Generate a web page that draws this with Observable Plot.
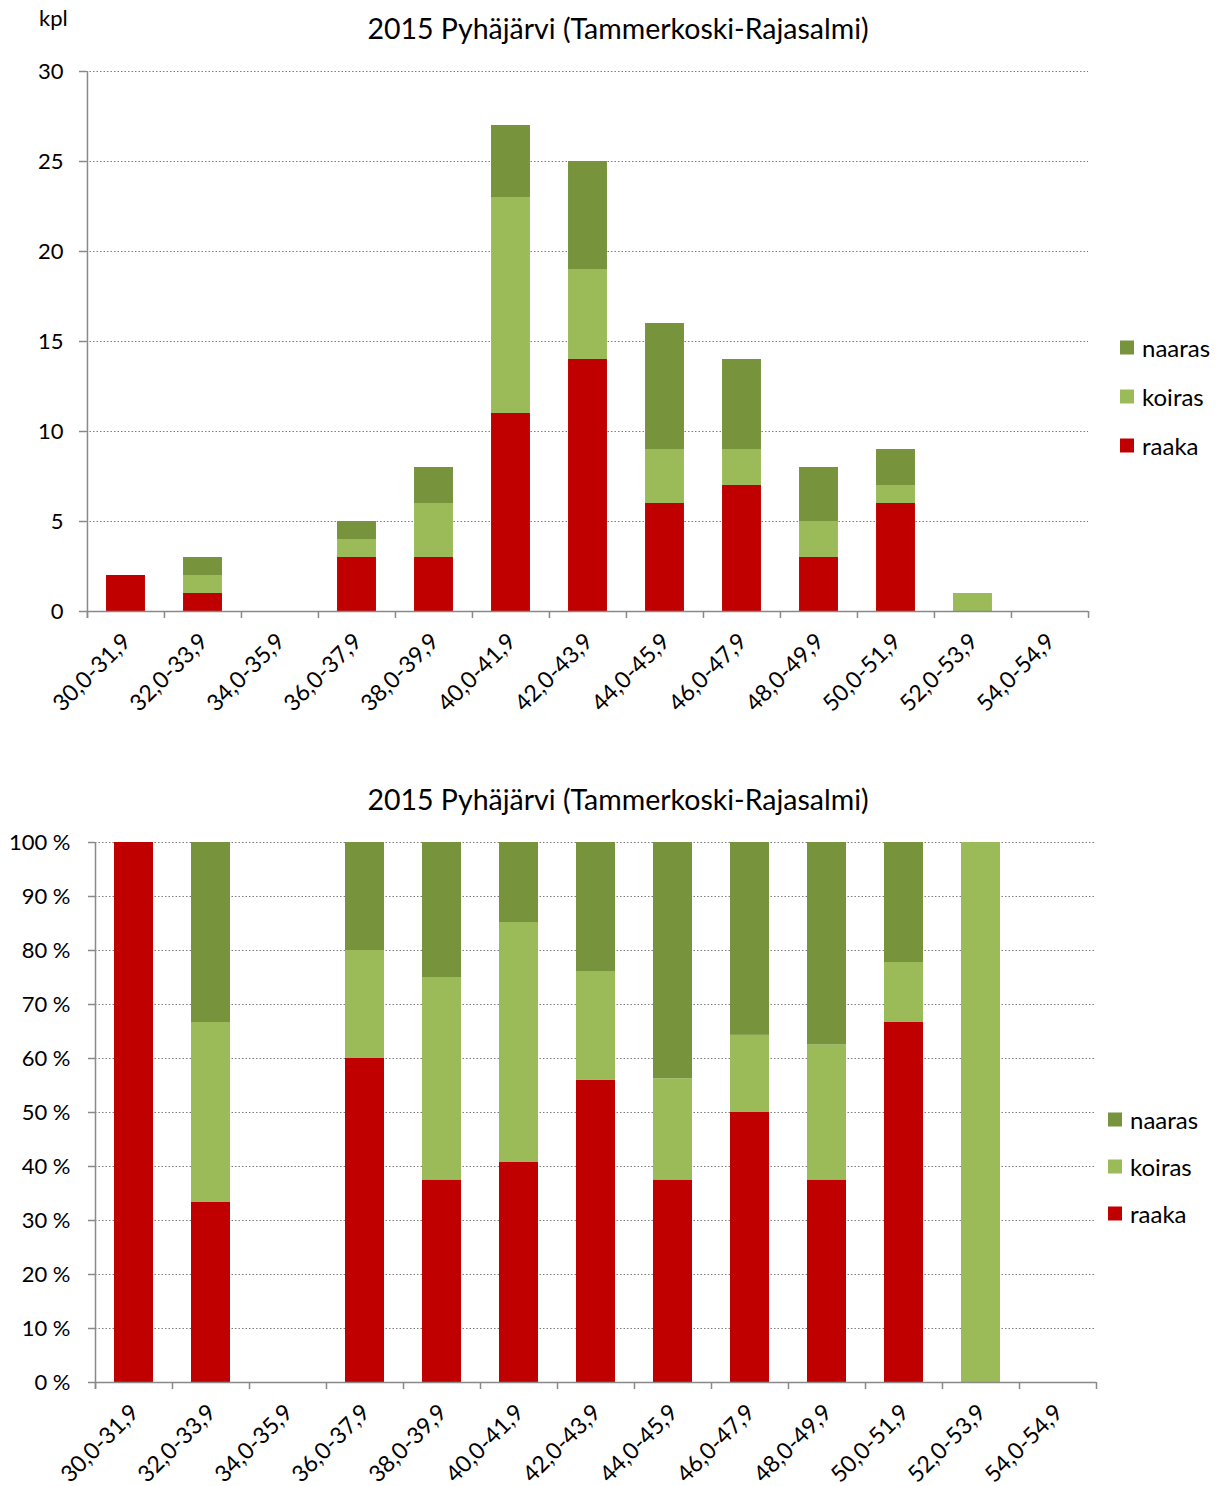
<!DOCTYPE html>
<html>
<head>
<meta charset="utf-8">
<script src="https://cdn.jsdelivr.net/npm/d3@7"></script>
<script src="https://cdn.jsdelivr.net/npm/@observablehq/plot@0.6"></script>
<style>
  html, body { margin: 0; padding: 0; background: #fff; }
  body { width: 1216px; height: 1486px; position: relative; overflow: hidden; font-family: Lato, "Open Sans", sans-serif; color: #000; }
  .abs { position: absolute; white-space: nowrap; }
  .title { font-size: 28.5px; transform: translate(-50%, -50%); }
  .leg { font-size: 24px; display: flex; align-items: center; transform: translateY(-50%); }
  .sw { width: 14px; height: 14px; margin-right: 8px; display: inline-block; }
  svg { position: absolute; left: 0; overflow: visible; }
</style>
</head>
<body>
<div id="root"></div>
<script>
const categories = ["30,0-31,9","32,0-33,9","34,0-35,9","36,0-37,9","38,0-39,9","40,0-41,9","42,0-43,9","44,0-45,9","46,0-47,9","48,0-49,9","50,0-51,9","52,0-53,9","54,0-54,9"];
const raaka  = [2, 1, 0, 3, 3, 11, 14, 6, 7, 3, 6, 0, 0];
const koiras = [0, 1, 0, 1, 3, 12, 5, 3, 2, 2, 1, 1, 0];
const naaras = [0, 1, 0, 1, 2, 4, 6, 7, 5, 3, 2, 0, 0];
const series = ["raaka", "koiras", "naaras"];
const colors = ["#C00000", "#9BBB59", "#77933C"];
const countTicks = [0, 5, 10, 15, 20, 25, 30];
const pctTicks = [0, 0.1, 0.2, 0.3, 0.4, 0.5, 0.6, 0.7, 0.8, 0.9, 1];
const titleText = "2015 Pyhäjärvi (Tammerkoski-Rajasalmi)";
const yUnit = "kpl";

const seriesValues = {raaka, koiras, naaras};
const data = [];
categories.forEach((c, i) => series.forEach(s => { if (seriesValues[s][i] > 0) data.push({cat: c, sex: s, value: seriesValues[s][i]}); }));

const FONT = "Lato, 'Open Sans', sans-serif";
const AX = "#898989";

function makeChart({top, height, mL, mR, mT, mB, normalize, yTicks, yFmt, yDomain, yPad}) {
  const plotW = 1216 - mL - mR;
  const bw = plotW / categories.length;
  const tickLenData = 7 / ((height - mT - mB) / (yDomain[1] - yDomain[0]));
  const stackOpts = {x: "cat", y: "value", fill: "sex", order: series};
  if (normalize) stackOpts.offset = "normalize";
  const svg = Plot.plot({
    width: 1216, height,
    marginLeft: mL, marginRight: mR, marginTop: mT, marginBottom: mB,
    style: {fontFamily: FONT, background: "transparent", overflow: "visible"},
    x: {domain: categories, padding: 0, axis: null, label: null},
    y: {domain: yDomain, axis: null, label: null},
    color: {domain: series, range: colors},
    marks: [
      Plot.gridY(yTicks.filter(t => t > 0), {stroke: "#7f7f7f", strokeOpacity: 1, strokeDasharray: "1.5,2", strokeWidth: 1.2}),
      Plot.barY(data, Plot.stackY({...stackOpts, insetLeft: (bw - 39) / 2, insetRight: (bw - 39) / 2})),
      Plot.axisY({ticks: yTicks, tickFormat: yFmt, label: null, tickSize: 7, tickPadding: yPad, fontSize: 22, stroke: AX, strokeWidth: 1.5, color: "#000"}),
      Plot.ruleX([categories[0]], {x: d => d, dx: -bw / 2, stroke: AX, strokeWidth: 1.5, y1: yDomain[0] - tickLenData, y2: yDomain[1]}),
      Plot.ruleY([yDomain[0]], {stroke: AX, strokeWidth: 1.5}),
      Plot.axisX({ticks: categories, label: null, tickSize: 7, tickFormat: () => "", dx: -bw / 2, stroke: AX, strokeWidth: 1.5}),
      Plot.ruleX([categories[categories.length - 1]], {x: d => d, dx: bw / 2, stroke: AX, strokeWidth: 1.5, y1: yDomain[0] - tickLenData, y2: yDomain[0]}),
      Plot.axisX({ticks: categories, label: null, tickSize: 0, tickRotate: -45, tickPadding: 26, fontSize: 23, color: "#000", dx: 1})
    ]
  });
  svg.style.top = top + "px";
  return svg;
}

const root = document.getElementById("root");

root.appendChild(makeChart({top: 0, height: 740, mL: 86, mR: 128, mT: 71, mB: 129, normalize: false, yTicks: countTicks, yFmt: d => String(d), yDomain: [0, 30], yPad: 16}));
root.appendChild(makeChart({top: 760, height: 726, mL: 95, mR: 120, mT: 82, mB: 104, normalize: true, yTicks: pctTicks, yFmt: d => Math.round(d * 100) + " %", yDomain: [0, 1], yPad: 18}));

function addDiv(cls, x, y, html) {
  const d = document.createElement("div");
  d.className = "abs " + cls;
  d.style.left = x + "px"; d.style.top = y + "px";
  d.innerHTML = html;
  document.body.appendChild(d);
  return d;
}
addDiv("title", 618, 28, titleText);
addDiv("title", 618, 799, titleText);
addDiv("", 39, 4, yUnit).style.fontSize = "22px";

const legOrder = ["naaras", "koiras", "raaka"];
legOrder.forEach((s, i) => {
  const col = colors[series.indexOf(s)];
  addDiv("leg", 1120, 347 + i * 49, `<span class="sw" style="background:${col}"></span>${s}`);
  addDiv("leg", 1108, 1119 + i * 47, `<span class="sw" style="background:${col}"></span>${s}`);
});
</script>
</body>
</html>
